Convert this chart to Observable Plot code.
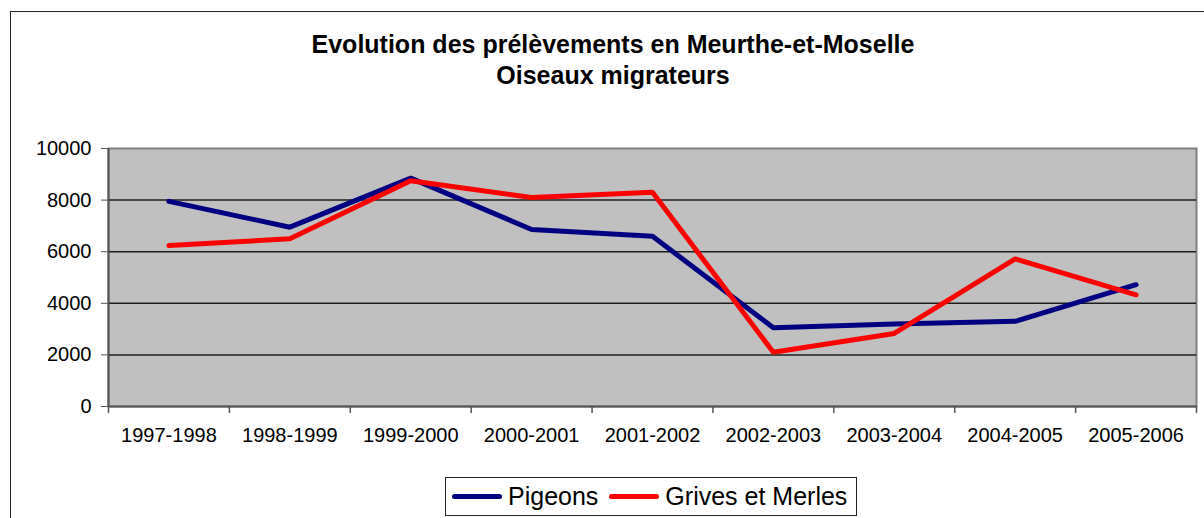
<!DOCTYPE html>
<html>
<head>
<meta charset="utf-8">
<script src="https://cdn.jsdelivr.net/npm/d3@7"></script>
<script src="https://cdn.jsdelivr.net/npm/@observablehq/plot@0.6"></script>
<style>
  html, body { margin: 0; padding: 0; background: #fff; }
  body { font-family: "Liberation Sans", Arial, sans-serif; }
  #wrap { position: relative; width: 1204px; height: 518px; overflow: hidden; }
  #border { position: absolute; left: 10px; top: 11px; width: 1230px; height: 540px; border: 1.5px solid #222; box-sizing: border-box; }
  #title { position: absolute; left: 12px; width: 1202px; top: 29px; text-align: center; font-weight: bold; font-size: 25px; line-height: 31px; color: #000; }
  #chart { position: absolute; left: 0; top: 120px; }
  #legend { position: absolute; left: 445px; top: 477px; width: 412px; height: 39px; border: 1px solid #222; box-sizing: border-box; background: #fff; display: flex; align-items: center; font-size: 25px; }
  .item { display: flex; align-items: center; }
  .swatch { display: inline-block; width: 50px; height: 5px; border-radius: 3px; margin-right: 6px; }
  .item:first-child .swatch { margin-left: 6px; }
  .item + .item .swatch { margin-left: 11px; }
</style>
</head>
<body>
<div id="wrap">
  <div id="border"></div>
  <div id="title">Evolution des prélèvements en Meurthe-et-Moselle<br>Oiseaux migrateurs</div>
  <div id="chart"></div>
  <div id="legend"></div>
</div>
<script>
const categories = ["1997-1998","1998-1999","1999-2000","2000-2001","2001-2002","2002-2003","2003-2004","2004-2005","2005-2006"];
const pigeons = [7950, 6950, 8850, 6860, 6600, 3050, 3200, 3300, 4720];
const grives  = [6240, 6500, 8750, 8100, 8300, 2100, 2830, 5720, 4330];
const seriesNames = ["Pigeons", "Grives et Merles"];
const seriesColors = ["#000080", "#FF0000"];
const yTicks = [0, 2000, 4000, 6000, 8000, 10000];
const gridTicks = [2000, 4000, 6000, 8000];

const idx = categories.map((_, i) => i);
const rows = [];
categories.forEach((c, i) => {
  rows.push({i, series: seriesNames[0], value: pigeons[i]});
});
categories.forEach((c, i) => {
  rows.push({i, series: seriesNames[1], value: grives[i]});
});
const boundaries = d3.range(0, categories.length + 1).map(i => i - 0.5);

const chart = Plot.plot({
  width: 1204,
  height: 340,
  marginTop: 28,
  marginBottom: 54,
  marginLeft: 108,
  marginRight: 8,
  style: {fontFamily: '"Liberation Sans", Arial, sans-serif', fontSize: "20px", color: "#000", background: "transparent"},
  x: {type: "linear", domain: [-0.5, categories.length - 0.5], axis: null},
  y: {domain: [0, 10000], axis: null},
  color: {domain: seriesNames, range: seriesColors},
  marks: [
    Plot.frame({fill: "#C0C0C0", stroke: "#808080", strokeWidth: 2}),
    Plot.ruleY(gridTicks, {stroke: "#000", strokeWidth: 1.5, strokeOpacity: 0.85}),
    Plot.ruleX(boundaries, {y1: 0, y2: -270, stroke: "#555", strokeWidth: 1.5}),
    Plot.ruleY([0], {stroke: "#555", strokeWidth: 2}),
    Plot.ruleX([-0.5], {stroke: "#555", strokeWidth: 2}),
    Plot.axisY(yTicks, {label: null, tickSize: 7, tickPadding: 10, tickFormat: d => String(d), stroke: "#555", fontSize: 20}),
    Plot.axisX(idx, {label: null, tickSize: 0, tickPadding: 21, tickFormat: i => categories[i], fontSize: 20}),
    Plot.line(rows, {x: "i", y: "value", z: "series", stroke: "series", strokeWidth: 5, strokeLinecap: "round", strokeLinejoin: "miter"})
  ]
});
document.getElementById("chart").appendChild(chart);

const legend = document.getElementById("legend");
seriesNames.forEach((name, k) => {
  const item = document.createElement("div");
  item.className = "item";
  const sw = document.createElement("span");
  sw.className = "swatch";
  sw.style.background = seriesColors[k];
  const label = document.createElement("span");
  label.textContent = name;
  item.appendChild(sw);
  item.appendChild(label);
  legend.appendChild(item);
});
</script>
</body>
</html>
